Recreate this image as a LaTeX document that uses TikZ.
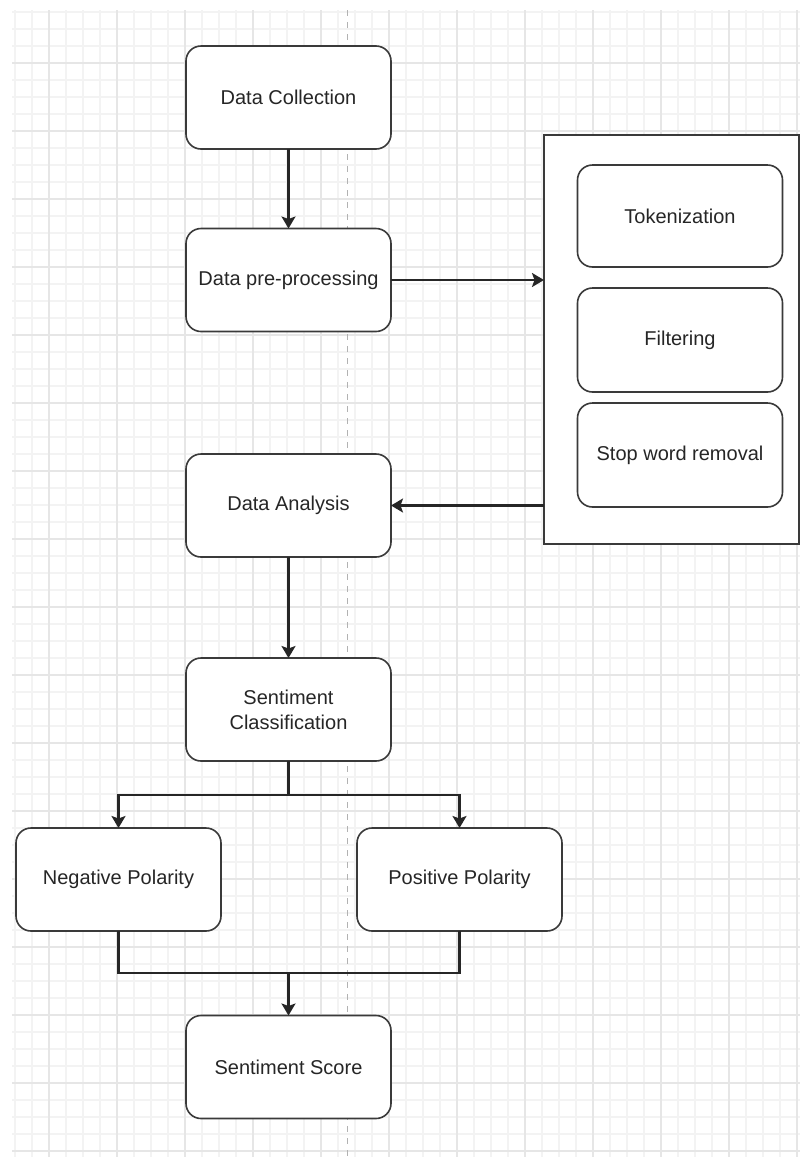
\documentclass[tikz,border=0pt]{standalone}
\usepackage{fontspec}
\setmainfont{Liberation Sans}
\usetikzlibrary{arrows.meta}
\definecolor{gridminor}{HTML}{F3F3F3}
\definecolor{gridmajor}{HTML}{E6E6E6}
\definecolor{boxline}{HTML}{3A3A3A}
\tikzset{
  procbox/.style={draw=boxline, fill=white, line width=1.6pt, rounded corners=15pt,
    minimum width=205pt, minimum height=103pt, inner sep=0pt, outer sep=0pt,
    align=center, font=\fontsize{20}{25}\selectfont, text=black!85},
  groupbox/.style={draw=boxline, fill=white, line width=1.6pt,
    minimum width=255pt, minimum height=409pt, inner sep=0pt, outer sep=0pt},
  conn/.style={draw=black!85, line width=2.2pt},
  arr/.style={conn, -{Stealth[length=12pt, width=14pt, inset=2.5pt]}}
}
\begin{document}
\begin{tikzpicture}[x=1pt, y=-1pt]
\useasboundingbox (0,0) rectangle (800,1157);
\fill[white] (0,0) rectangle (800,1157);
% grid
\foreach \x in {15,32,...,800} \draw[gridminor, line width=1.2pt] (\x,10) -- (\x,1157);
\foreach \y in {12,29,...,1157} \draw[gridminor, line width=1.2pt] (12,\y) -- (800,\y);
\foreach \x in {49,117,...,800} \draw[gridmajor, line width=1.4pt] (\x,10) -- (\x,1157);
\foreach \y in {63,131,...,1157} \draw[gridmajor, line width=1.4pt] (12,\y) -- (800,\y);
\draw[black!30, line width=1pt, dash pattern=on 6pt off 6pt] (347,10) -- (347,1157);

% nodes
\node[procbox] (dc) at (288.5,97.5) {Data Collection};
\node[procbox] (dp) at (288.5,280) {Data pre-processing};
\node[procbox] (da) at (288.5,505.5) {Data Analysis};
\node[procbox] (sc) at (288.5,709.5) {Sentiment\\Classification};
\node[procbox] (np) at (118.5,879.5) {Negative Polarity};
\node[procbox] (pp) at (459.5,879.5) {Positive Polarity};
\node[procbox] (ss) at (288.5,1067) {Sentiment Score};

\node[groupbox] (grp) at (671.5,339.5) {};
\node[procbox, minimum height=102pt] (tok) at (680,216) {Tokenization};
\node[procbox, minimum height=104pt] (fil) at (680,340) {Filtering};
\node[procbox, minimum height=104pt] (stw) at (680,455) {Stop word removal};

% connectors
\draw[arr] (dc.south) -- (dp.north);
\draw[arr] (dp.east) -- (dp.east -| grp.west);
\draw[arr] (da.east -| grp.west) -- (da.east);
\draw[arr] (da.south) -- (sc.north);
\coordinate (split) at (288.5,795);
\draw[conn] (sc.south) -- (split);
\draw[arr] (split) -| (np.north);
\draw[arr] (split) -| (pp.north);
\coordinate (merge) at (288.5,973);
\draw[conn] (np.south) |- (merge) -| (pp.south);
\draw[arr] (merge) -- (ss.north);
\end{tikzpicture}
\end{document}
